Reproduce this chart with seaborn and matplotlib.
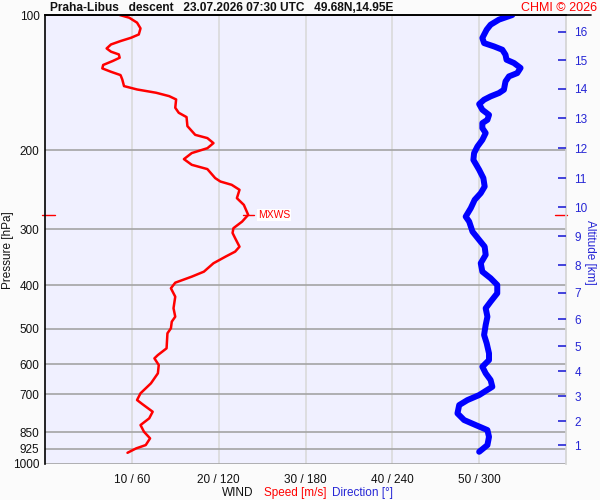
import matplotlib
matplotlib.use('Agg')
import matplotlib.pyplot as plt
from matplotlib.lines import Line2D
from matplotlib.ticker import NullLocator
import numpy as np
import seaborn as sns

# --- sounding data ---
# wind speed profile (red): pressure [hPa] / speed [m/s]
speed_hpa = [100, 101.4, 104.0, 107.1, 110.5, 112.4, 114.3, 116.3, 118.7, 120.7,
             122.4, 124.5, 126.6, 129.2, 131.5, 133.8, 136.1, 139.2, 144.0, 146.5,
             149.0, 151.6, 154.2, 160.9, 165.1, 168.8, 176.8, 184.9, 188.0, 192.9,
             198.0, 203.0, 209.4, 215.6, 220.4, 230.8, 234.9, 238.9, 245.1, 255.8,
             264.8, 278.7, 288.5, 298.4, 305.8, 314.2, 328.1, 336.5, 345.2, 357.2,
             372.9, 382.6, 394.6, 406.1, 424.0, 449.9, 469.8, 481.9, 498.6, 511.6,
             552.6, 571.9, 581.7, 601.9, 628.1, 661.2, 695.9, 720.3, 735.3, 764.8,
             791.3, 819.0, 847.6, 876.8, 907.5, 923.0, 944.1]
speed_ms = [8.6, 9.7, 10.6, 11.0, 10.8, 9.9, 8.7, 7.6, 7.1, 7.6,
            8.5, 8.6, 7.8, 6.7, 6.6, 7.6, 8.7, 8.9, 9.1, 10.6,
            12.8, 14.3, 15.1, 15.0, 15.4, 16.3, 16.4, 17.3, 18.7, 19.4,
            18.7, 16.9, 16.0, 16.9, 18.7, 19.6, 20.2, 21.5, 22.4, 22.1,
            22.9, 23.4, 22.7, 21.7, 21.6, 21.9, 22.4, 21.9, 20.8, 19.4,
            18.3, 16.9, 15.0, 14.5, 15.0, 14.8, 15.0, 14.6, 14.5, 14.1,
            14.0, 13.0, 12.6, 13.1, 13.0, 12.2, 11.0, 10.6, 11.2, 12.4,
            12.0, 11.0, 11.4, 12.1, 11.6, 10.5, 9.5]

# wind direction profile (blue): pressure [hPa] / direction [deg]
dir_hpa = [100, 102.4, 105.1, 107.8, 112.5, 115.5, 117.5, 119.5, 122.6, 125.8,
           127.9, 131.2, 134.7, 137.0, 140.6, 146.7, 149.2, 151.8, 154.4, 157.9,
           162.6, 166.9, 171.2, 174.1, 178.6, 183.2, 189.7, 196.3, 203.0, 210.2,
           221.2, 230.8, 241.0, 249.3, 258.0, 269.3, 281.2, 288.5, 303.7, 316.9,
           328.1, 342.1, 357.1, 372.9, 385.7, 399.2, 416.6, 435.0, 449.9, 469.8,
           490.2, 516.0, 538.5, 567.0, 586.8, 607.2, 628.1, 650.1, 672.9, 702.2,
           720.5, 739.2, 771.4, 798.2, 819.0, 840.3, 869.8, 907.5, 939.3]
dir_deg = [322.9, 313.7, 307.9, 305.2, 302.2, 303.4, 310.3, 316.0, 318.2, 318.9,
           324.0, 328.6, 326.3, 320.6, 318.2, 317.1, 313.7, 307.9, 303.4, 300.0,
           302.2, 306.8, 305.7, 302.2, 302.2, 304.5, 302.2, 298.8, 296.5, 296.0,
           300.0, 302.9, 303.8, 301.1, 296.9, 294.2, 290.7, 293.1, 295.4, 300.0,
           303.8, 304.5, 301.1, 302.2, 307.9, 312.5, 312.5, 307.9, 304.5, 305.7,
           304.5, 303.4, 305.2, 306.8, 306.8, 302.2, 304.5, 307.9, 309.1, 300.0,
           291.9, 286.2, 285.0, 289.6, 297.6, 305.7, 306.8, 305.7, 300.0]

p_ticks = [100, 200, 300, 400, 500, 600, 700, 850, 925, 1000]
speed_ticks = [10, 20, 30, 40, 50]
wind_labels = ['10 / 60', '20 / 120', '30 / 180', '40 / 240', '50 / 300']
alt_km = list(range(1, 17))
alt_hpa = [909, 804, 707, 622, 547, 476, 415, 361, 311, 268, 231, 198, 170, 146, 126, 109]

BG = '#f0f0ff'
RED = '#ff0000'
BLUE = '#0000ff'
ALT_BLUE = '#2525d5'

sns.set_theme(style='white')
plt.rcParams['font.family'] = ['Liberation Sans', 'DejaVu Sans']

fig = plt.figure(figsize=(6, 5), dpi=100, facecolor='#fbfbfb')
ax = fig.add_axes([45 / 600, 1 - 464 / 500, (566 - 45) / 600, (464 - 15) / 500])
ax.set_facecolor(BG)
ax.set_yscale('log')
ax.set_ylim(1000, 100)
ax.set_xlim(0, 60)

# grid: dark horizontal pressure lines, pale vertical wind lines
ax.set_yticks(p_ticks)
ax.set_yticklabels([str(p) for p in p_ticks])
ax.yaxis.set_minor_locator(NullLocator())
ax.set_xticks(speed_ticks)
ax.set_xticklabels(wind_labels)
ax.grid(False)
ax.yaxis.grid(True, color='#a4a4a4', lw=1.2)
ax.xaxis.grid(True, color='#dadada', lw=1.2)
ax.tick_params(axis='y', length=0, pad=4, labelsize=8.5, colors='#111111')
ax.tick_params(axis='x', length=0, pad=7, labelsize=8.5, colors='#111111')
ax.spines['left'].set_color('black')
ax.spines['top'].set_color('black')
ax.spines['left'].set_linewidth(1.2)
ax.spines['top'].set_linewidth(1.2)
ax.spines['bottom'].set_visible(False)
ax.spines['right'].set_color('#d4d4d4')

# speed (red)
sns.lineplot(x=speed_ms, y=speed_hpa, sort=False, estimator=None, color=RED,
             lw=1.8, ax=ax)

# max wind marker
i_max = int(np.argmax(speed_ms))
p_max, s_max = speed_hpa[i_max], speed_ms[i_max]
ax.plot([s_max - 0.55, s_max + 0.65], [p_max, p_max], color=RED, lw=1)
ax.text(s_max + 1.1, p_max, 'MXWS', color=RED, fontsize=7.5, va='center', ha='left',
        bbox=dict(facecolor='white', edgecolor='none', pad=0.5))
ax.plot([-0.005, 0.02], [p_max, p_max], color=RED, lw=1,
        transform=ax.get_yaxis_transform(), clip_on=False)
ax.plot([0.979, 1.002], [p_max, p_max], color=RED, lw=1,
        transform=ax.get_yaxis_transform(), clip_on=False)

# direction (blue) on its own 0-360 scale
axd = ax.twiny()
axd.set_xlim(0, 360)
sns.lineplot(x=dir_deg, y=dir_hpa, sort=False, estimator=None, color=BLUE,
             lw=4.3, ax=axd, solid_capstyle='round', solid_joinstyle='round')
axd.set_xticks([])
axd.set_xlabel('')
axd.set_ylabel('')
for s in axd.spines.values():
    s.set_visible(False)

# altitude ticks on the right
axa = ax.twinx()
axa.set_yscale('log')
axa.set_ylim(1000, 100)
axa.set_yticks(alt_hpa)
axa.set_yticklabels([str(k) for k in alt_km])
axa.yaxis.set_minor_locator(NullLocator())
axa.tick_params(axis='y', right=True, direction='in', length=5.5, width=1.2,
                colors=ALT_BLUE, pad=6, labelsize=8.5)
for s in axa.spines.values():
    s.set_visible(False)

# black top line runs past the plot
fig.add_artist(Line2D([45 / 600, 591 / 600], [1 - 15 / 500, 1 - 15 / 500],
                      color='black', lw=1.2))

fig.text(50 / 600, 1 - 8 / 500,
         'Praha-Libus   descent   23.07.2026 07:30 UTC   49.68N,14.95E',
         fontsize=8.6, fontweight='bold', va='center', ha='left', color='#111111')
fig.text(597 / 600, 1 - 8 / 500, 'CHMI \u00a9 2026', fontsize=9, color=RED,
         va='center', ha='right')
fig.text(8 / 600, 1 - 250 / 500, 'Pressure [hPa]', rotation=90, fontsize=8.5,
         va='center', ha='center', color='#111111')
fig.text(590 / 600, 1 - 252 / 500, 'Altitude [km]', rotation=-90, fontsize=8.5,
         va='center', ha='center', color=ALT_BLUE)
fig.text(253 / 600, 1 - 493 / 500, 'WIND', fontsize=8.5, ha='right', va='center',
         color='#111111')
fig.text(264 / 600, 1 - 493 / 500, 'Speed [m/s]', fontsize=8.5, ha='left',
         va='center', color=RED)
fig.text(332 / 600, 1 - 493 / 500, 'Direction [\u00b0]', fontsize=8.5, ha='left',
         va='center', color=ALT_BLUE)

fig.savefig('out.png', dpi=100, facecolor=fig.get_facecolor())
